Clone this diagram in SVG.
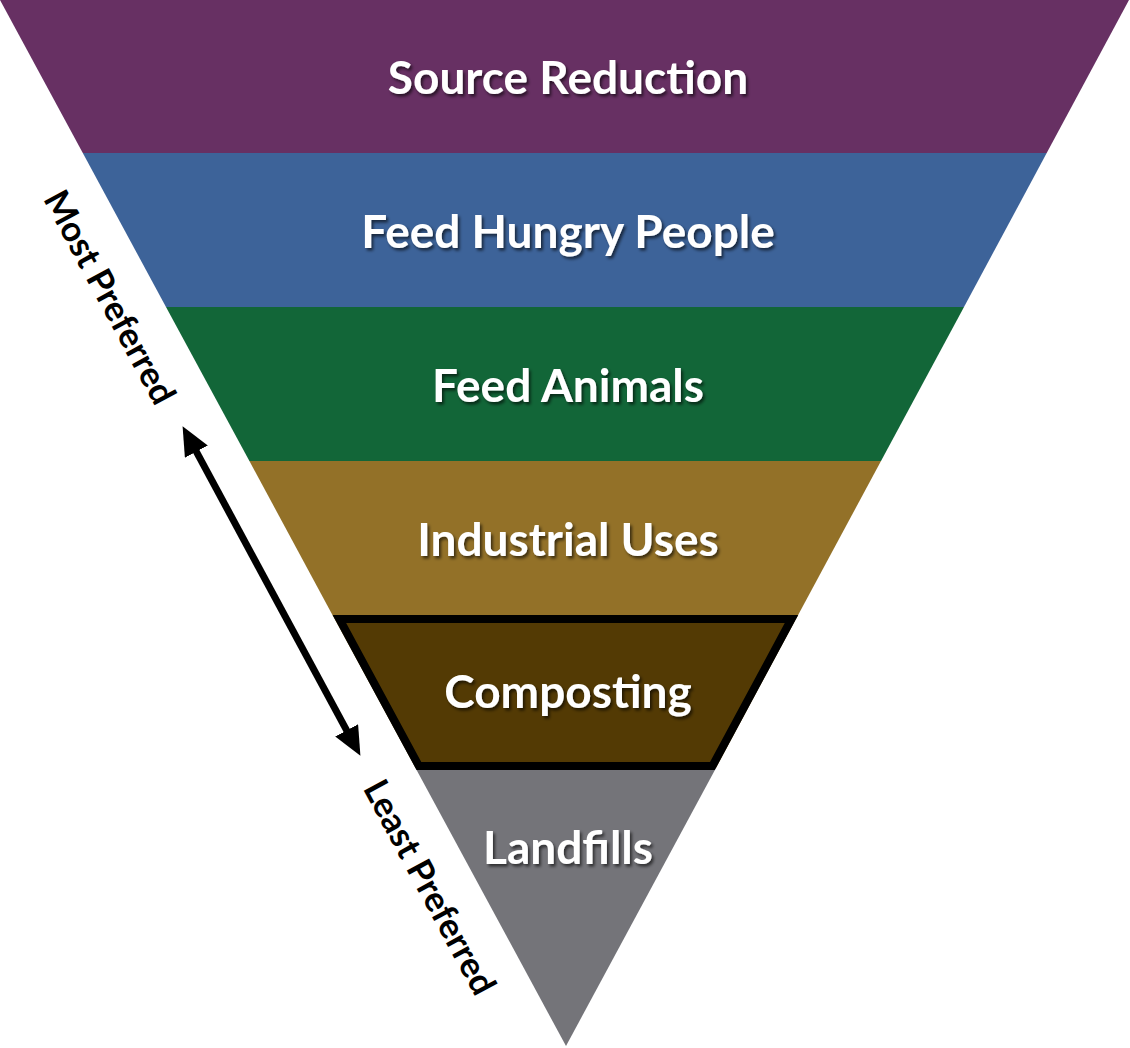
<svg xmlns="http://www.w3.org/2000/svg" width="1130" height="1048" viewBox="0 0 1130 1048">
<defs>
<style>
.lbl{font-family:Lato,"Open Sans","Liberation Sans",sans-serif;font-weight:700;font-size:46px;fill:#ffffff;text-anchor:middle;filter:url(#ts)}
.side{font-family:Lato,"Open Sans","Liberation Sans",sans-serif;font-weight:700;font-size:35px;fill:#000000;text-anchor:middle}
</style>
<filter id="ts" x="-10%" y="-30%" width="120%" height="160%">
<feDropShadow dx="2" dy="2.5" stdDeviation="1.5" flood-color="#000" flood-opacity="0.6"/>
</filter>
<marker id="ah" markerUnits="userSpaceOnUse" markerWidth="30" markerHeight="26" refX="2" refY="13" orient="auto-start-reverse" viewBox="0 0 30 26">
<path d="M0,0 L29,13 L0,26 z" fill="#000"/>
</marker>
</defs>
<g id="source-reduction">
<polygon points="0,0 1129,0 1046.7,153 82.8,153" fill="#673063"/>
<text class="lbl" x="568" y="94">Source Reduction</text>
</g>
<g id="feed-hungry-people">
<polygon points="82.8,153 1046.7,153 964,307 166,307" fill="#3D6399"/>
<text class="lbl" x="568" y="248">Feed Hungry People</text>
</g>
<g id="feed-animals">
<polygon points="166,307 964,307 881,461 249.4,461" fill="#126638"/>
<text class="lbl" x="568" y="402">Feed Animals</text>
</g>
<g id="industrial-uses">
<polygon points="249.4,461 881,461 797.6,616 333,616" fill="#937128"/>
<text class="lbl" x="568" y="556">Industrial Uses</text>
</g>
<g id="landfills">
<polygon points="415.5,768 716,768 566,1046" fill="#747479"/>
<text class="lbl" x="568" y="864">Landfills</text>
</g>
<g id="composting">
<polygon points="333,616 797.6,616 716,768 415.5,768" fill="#533A04"/>
<polygon points="339.4,619 791.5,619 712.4,766 418.9,766" fill="none" stroke="#000" stroke-width="8" stroke-linejoin="miter"/>
<text class="lbl" x="568" y="708">Composting</text>
</g>
<g id="connectors">
<line x1="195.4" y1="449.9" x2="347.6" y2="732.1" stroke="#000" stroke-width="7" marker-start="url(#ah)" marker-end="url(#ah)"/>
</g>
<g id="most-preferred">
<text class="side" transform="translate(99,303) rotate(61.6)">Most Preferred</text>
</g>
<g id="least-preferred">
<text class="side" transform="translate(419,893) rotate(61.6)">Least Preferred</text>
</g>
</svg>
